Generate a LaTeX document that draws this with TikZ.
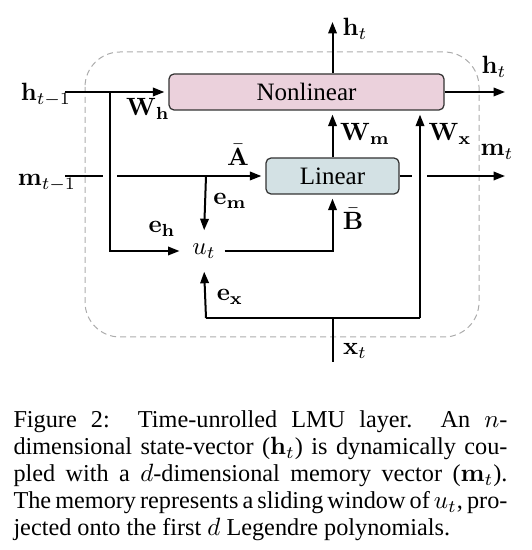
\documentclass[tikz,border=0pt]{standalone}
\usepackage[no-math]{fontspec}
\setmainfont{Liberation Serif}
\usepackage{amsmath}
\usetikzlibrary{arrows.meta,calc}

\definecolor{nlpink}{HTML}{EBD1DC}
\definecolor{linblue}{HTML}{D3E1E4}

\begin{document}
\begin{tikzpicture}[
    x=0.4pt, y=-0.4pt,
    wire/.style={line width=0.8pt},
    arr/.style={line width=0.8pt, -{Triangle[length=4.6pt, width=3.4pt]}, shorten >=1.6pt},
    block/.style={rectangle, draw=black!80, line width=0.5pt, rounded corners=2pt, font=\normalsize},
    lab/.style={inner sep=0pt, font=\normalsize}
]
\useasboundingbox (0,0) rectangle (531,550);

% Cell boundary
\draw[gray!65, dashed, dash pattern=on 2.4pt off 1.6pt, line width=0.4pt, rounded corners=14pt] (85,52) rectangle (479,337);

% Blocks
\node[block, fill=nlpink, minimum width=110pt, minimum height=14.4pt] (nl) at (306.5,92) {Nonlinear};
\node[block, fill=linblue, minimum width=53.2pt, minimum height=14.4pt] (lin) at (332.5,176) {Linear};
\node[inner sep=0pt, minimum width=16pt, minimum height=13pt] (ut) at (204,251) {$u_t$};

% Inputs / outputs
\node[lab] (hprev) at (46,95) {$\mathbf{h}_{t-1}$};
\node[lab] (mprev) at (47,183) {$\mathbf{m}_{t-1}$};
\node[lab] (htop) at (355,29) {$\mathbf{h}_t$};
\node[lab] (hright) at (494,67) {$\mathbf{h}_t$};
\node[lab] (mright) at (497,152) {$\mathbf{m}_t$};
\node[lab] (xin) at (355,351) {$\mathbf{x}_t$};

\coordinate (hin) at (65,92);
\coordinate (hsplit) at (110,92);
\coordinate (min) at (65,176);
\coordinate (msplit) at (206,176);
\coordinate (hout) at (509,92);
\coordinate (mout) at (509,176);
\coordinate (htip) at (332.5,22);
\coordinate (xbot) at (332.5,362);
\coordinate (xjoin) at (332.5,318);
\coordinate (xl) at (206,318);
\coordinate (xr) at (420,318);

% Hidden state path
\draw[arr] (hin) -- (nl.west);
\draw[arr] (hsplit) |- (ut.west);
\draw[arr] (nl.east) -- (hout);
\draw[arr, shorten >=0pt] (lin.north |- nl.north) -- (htip);

% Memory path
\draw[wire] (min) -- ($(hsplit |- min)+(-7,0)$);
\draw[arr] ($(hsplit |- min)+(7,0)$) -- (lin.west);
\draw[arr] (msplit) -- (ut.north);
\draw[wire] (lin.east) -- ($(xr |- lin.east)+(-8,0)$);
\draw[arr] ($(xr |- lin.east)+(7,0)$) -- (mout);
\draw[arr] (lin.north) -- (lin.north |- nl.south);
\draw[arr] (ut.east) -| (lin.south);

% Input path
\draw[wire] (xbot) -- (xjoin);
\draw[wire] (xl) -- (xr);
\draw[arr] (xl) -- (ut.south);
\draw[arr] (xr) -- (xr |- nl.south);

% Weights
\node[lab] (wh) at (148,109) {$\mathbf{W}_\mathbf{h}$};
\node[lab] (abar) at (238,155) {$\bar{\mathbf{A}}$};
\node[lab] (em) at (230,201) {$\mathbf{e}_\mathbf{m}$};
\node[lab] (eh) at (162,229) {$\mathbf{e}_\mathbf{h}$};
\node[lab] (bbar) at (353,219) {$\bar{\mathbf{B}}$};
\node[lab] (wm) at (365,134) {$\mathbf{W}_\mathbf{m}$};
\node[lab] (wx) at (450,134) {$\mathbf{W}_\mathbf{x}$};
\node[lab] (ex) at (230,297) {$\mathbf{e}_\mathbf{x}$};

% Caption
\node[anchor=north west, inner sep=0pt, text width=197.6pt, align=justify,
      font={\fontsize{9.7}{10.8}\selectfont\spaceskip=0.25em plus 0.2em minus 0.1em\hyphenpenalty=10000\tolerance=10000\hfuzz=20pt}] (caption) at (13,410)
{Figure~2:\ ~Time-unrolled~LMU~layer.\ ~An~$n$-\linebreak
dimensional~state-vector~($\mathbf{h}_t$)~is~dynamically~cou-\linebreak
pled~with~a~$d$-dimensional~memory~vector~($\mathbf{m}_t$).\linebreak
The~memory~represents~a~sliding~window~of~$u_t$,~pro-\linebreak
jected~onto~the~first~$d$~Legendre~polynomials.};

\end{tikzpicture}
\end{document}
